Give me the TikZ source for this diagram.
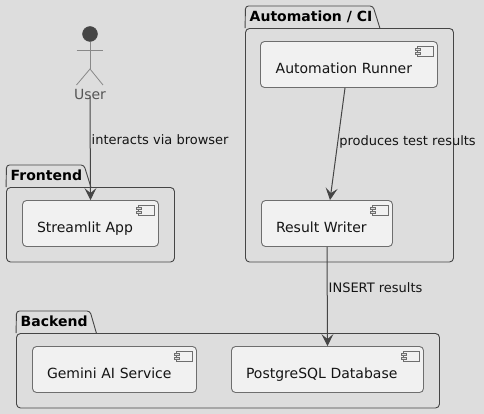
\documentclass[tikz,border=0pt]{standalone}
\usepackage{fontspec}
\setmainfont{DejaVu Sans}
\usepackage{tikz}
\usetikzlibrary{arrows.meta}
\usetikzlibrary{positioning}
\definecolor{bgcol}{HTML}{DDDDDD}
\definecolor{boxcol}{HTML}{F1F1F1}
\definecolor{linecol}{HTML}{454545}
\definecolor{bordercol}{HTML}{6E6E6E}
\definecolor{actorcol}{HTML}{888888}
\definecolor{usercol}{HTML}{555555}

\begin{document}
\begin{tikzpicture}[x=1pt,y=-1pt,
		compbox/.style={
			draw=bordercol,
			fill=boxcol,
			line width=0.9pt,
			rounded corners=4pt,
			minimum height=46pt,
			inner xsep=14.5pt,
			inner ysep=0pt,
			text height=18pt,
			text depth=0pt,
			align=left,
			font=\fontsize{14}{16}\selectfont,
			text=black!92,
		},
		pkgbody/.style={
			draw=linecol,
			line width=0.9pt,
			rounded corners=4pt,
			inner sep=0pt,
		},
		pkgtab/.style={draw=linecol, line width=0.9pt, rounded corners=3pt},
		pkgname/.style={font=\fontsize{14}{16}\selectfont\bfseries, inner sep=0pt, anchor=west},
		flow/.style={draw=linecol, line width=1pt, -{Stealth[length=12pt,width=12pt,inset=5pt]}},
		flowlabel/.style={font=\fontsize{13}{15}\selectfont, text=black!92, inner sep=1pt, anchor=west},
	]
		\fill[bgcol] (0,0) rectangle (484,414);
		\useasboundingbox (0,0) rectangle (484,414);
		
		% packages
		\node[pkgbody, minimum width=168pt, minimum height=74.5pt] (frontend) at (90.5,224.75) {};
		\draw[pkgtab] (frontend.north west) -- (6.5,165) -- (84,165) -- (91,187.5);
		\node[pkgname] (frontendname) at (10.5,175.5) {Frontend};
		
		\node[pkgbody, minimum width=208pt, minimum height=233.5pt] (automation) at (349.5,145.25) {};
		\draw[pkgtab] (automation.north west) -- (245.5,6) -- (373,6) -- (380,28.5);
		\node[pkgname] (automationname) at (249.5,16.5) {Automation / CI};
		
		\node[pkgbody, minimum width=423pt, minimum height=74.5pt] (backend) at (228,370.75) {};
		\draw[pkgtab] (backend.north west) -- (16.5,311) -- (90,311) -- (96.5,333.5);
		\node[pkgname] (backendname) at (20.5,321.5) {Backend};
		
		% components
		\node[compbox, text width=107pt] (streamlit) at (90.5,223.5) {Streamlit App};
		\node[compbox, text width=148pt] (runner) at (349,64.5) {\hspace*{0.7pt}Automation Runner};
		\node[compbox, text width=102pt] (writer) at (327,223.5) {Result Writer};
		\node[compbox, text width=135pt] (gemini) at (114.5,369.5) {Gemini AI Service};
		\node[compbox, text width=163pt] (postgres) at (327.5,369.5) {PostgreSQL Database};
		
		\foreach \comp in {streamlit, runner, writer, gemini, postgres} {
			\draw[bordercol, line width=0.8pt] (\comp.north east)++(-5,5) rectangle ++(-16,10);
			\draw[bordercol, line width=0.8pt, fill=bgcol] (\comp.north east)++(-23,7) rectangle ++(5,2.6);
			\draw[bordercol, line width=0.8pt, fill=bgcol] (\comp.north east)++(-23,11) rectangle ++(5,2.6);
		}
		
		% actor
		\node[circle, fill=linecol, draw=linecol, minimum size=15pt, inner sep=0pt] (head) at (90,34) {};
		\coordinate (hip) at (90,69);
		\draw[actorcol, line width=0.8pt] (head.south) -- (hip);
		\draw[actorcol, line width=0.8pt] (76.5,50) -- (103,50);
		\draw[actorcol, line width=0.8pt] (76.5,85) -- (hip) -- (103,85);
		\node[font=\fontsize{14}{16}\selectfont, text=usercol, inner sep=0pt] (user) at (90,94) {User};
		
		% connectors
		\draw[flow] ([yshift=2pt]user.south) -- node[flowlabel, pos=.41] {interacts via browser} (streamlit.north);
		\draw[flow] ([xshift=-4pt]runner.south) -- node[flowlabel, pos=.48] {produces test results} ([xshift=3pt]writer.north);
		\draw[flow] (writer.south) -- node[flowlabel, pos=.41] {INSERT results} (postgres.north);
	\end{tikzpicture}
\end{document}
